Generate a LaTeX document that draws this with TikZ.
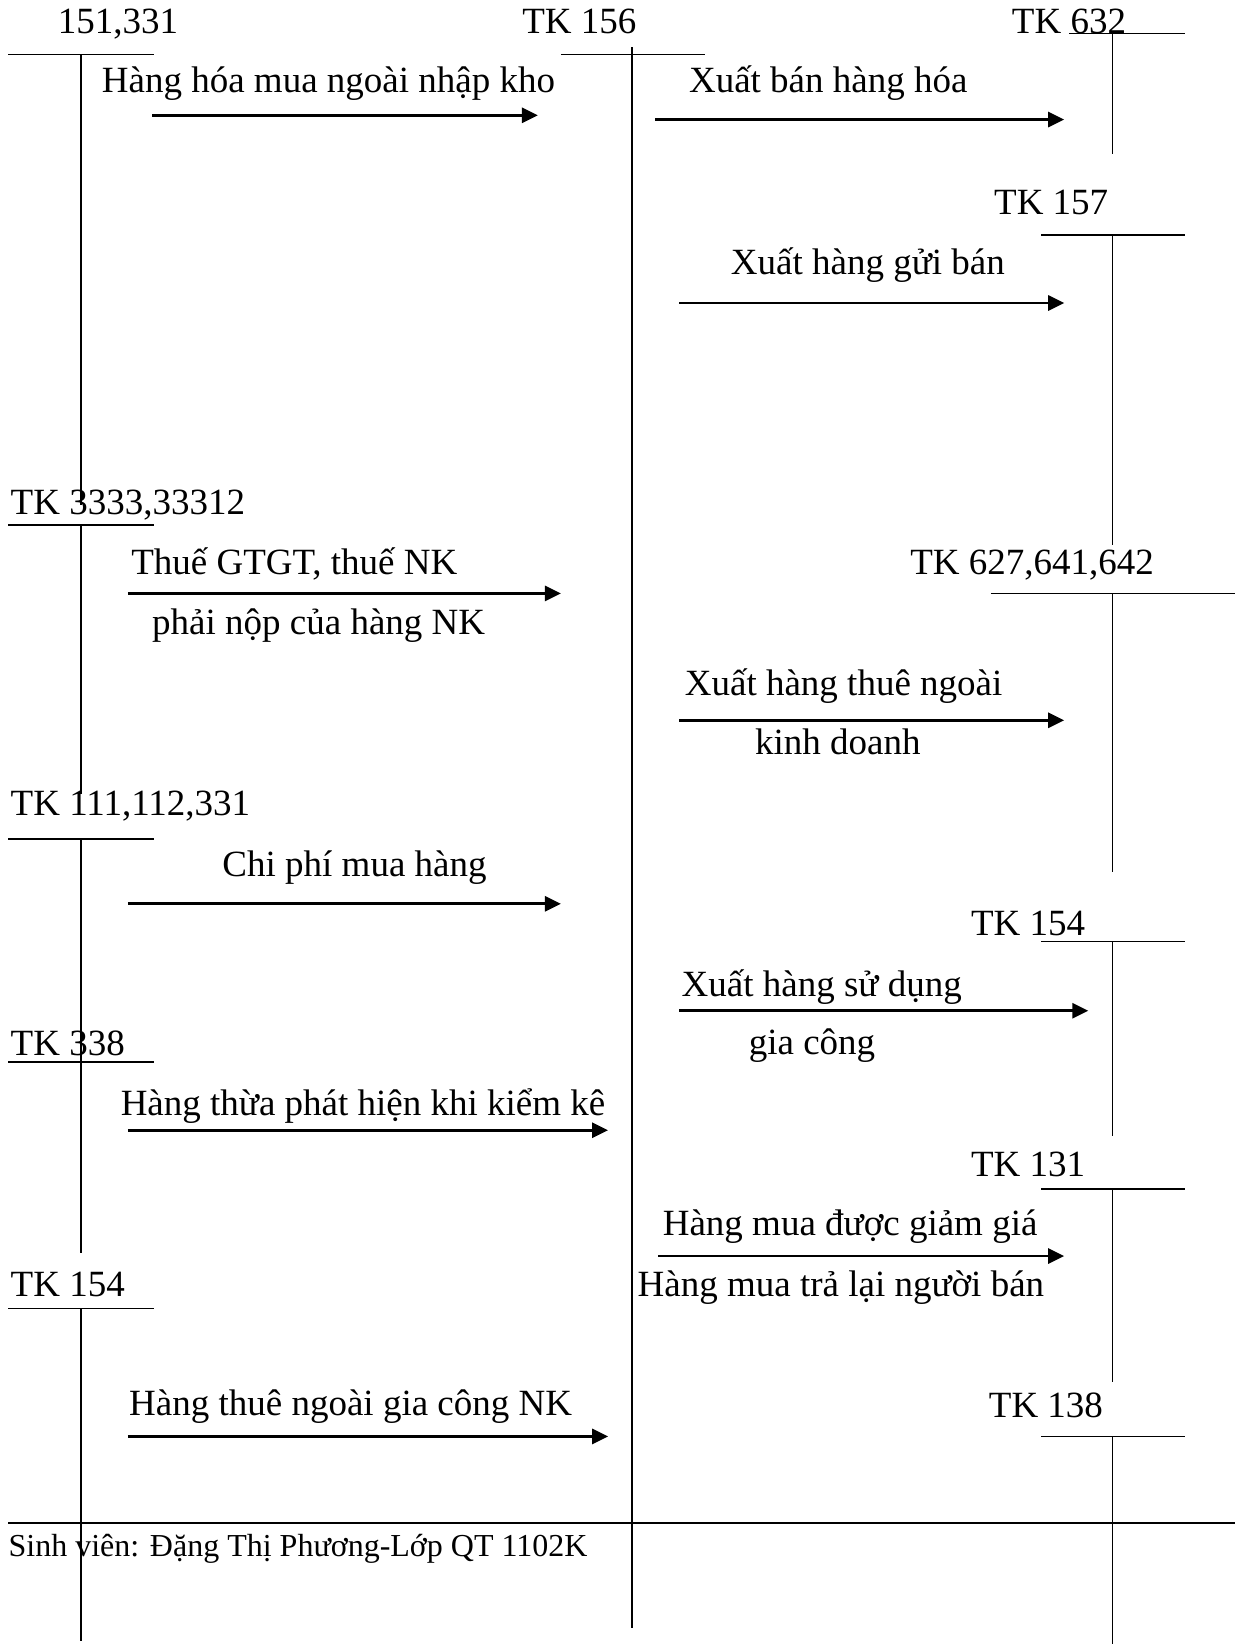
\documentclass[tikz,border=0pt]{standalone}
\usepackage{fontspec}
\setmainfont{Liberation Serif}
\usetikzlibrary{arrows.meta}
\tikzset{
  lbl/.style={anchor=base west, inner sep=0pt, font=\fontsize{37}{44}\selectfont},
  foot/.style={anchor=base west, inner sep=0pt, font=\fontsize{32}{38}\selectfont},
  tline/.style={line width=1.6pt},
  flow/.style={line width=2.8pt, -{Triangle[length=16pt,width=15pt]}},
}
\begin{document}
\begin{tikzpicture}[x=1.0484pt,y=-1.0484pt]
\useasboundingbox (0,0) rectangle (1178,1568);
% labels of accounts
\node[lbl] (a151) at (55,32) {151,331};
\node[lbl] (a156) at (498,32) {TK 156};
\node[lbl] (a632) at (965,32) {TK 632};
\node[lbl] (a157) at (948,205) {TK 157};
\node[lbl] (a3333) at (10,491) {TK 3333,33312};
\node[lbl] (a627) at (868,548) {TK 627,641,642};
\node[lbl] (a111) at (10,778) {TK 111,112,331};
\node[lbl] (a154r) at (926,892) {TK 154};
\node[lbl] (a338) at (10,1007) {TK 338};
\node[lbl] (a131) at (926,1122) {TK 131};
\node[lbl] (a154l) at (10,1237) {TK 154};
\node[lbl] (a138) at (943,1352) {TK 138};
% T-account lines: left column
\draw[tline] (8,52) -- (147,52);
\draw[tline] (77,52) -- (77,482);
\draw[tline] (8,501) -- (147,501);
\draw[tline] (77,501) -- (77,757);
\draw[tline] (8,800) -- (147,800);
\draw[tline] (77,800) -- (77,1195);
\draw[tline] (8,1013) -- (147,1013);
\draw[tline] (8,1248) -- (147,1248);
\draw[tline] (77,1248) -- (77,1565);
% middle column
\draw[tline] (535,52) -- (672,52);
\draw[tline] (603,45) -- (603,1553);
% right column
\draw[tline] (1020,32) -- (1130,32);
\draw[tline] (1061,30) -- (1061,147);
\draw[tline] (993,224) -- (1130,224);
\draw[tline] (1061,224) -- (1061,520);
\draw[tline] (945,566) -- (1178,566);
\draw[tline] (1061,566) -- (1061,832);
\draw[tline] (993,898) -- (1130,898);
\draw[tline] (1061,898) -- (1061,1083);
\draw[tline] (993,1134) -- (1130,1134);
\draw[tline] (1061,1134) -- (1061,1318);
\draw[tline] (993,1370) -- (1130,1370);
\draw[tline] (1061,1370) -- (1061,1568);
% bottom rule
\draw[line width=2pt] (8,1453) -- (1178,1453);
% flow labels
\node[lbl] (t1) at (97,88) {Hàng hóa mua ngoài nhập kho};
\node[lbl] (t2) at (657,88) {Xuất bán hàng hóa};
\node[lbl] (t3) at (697,262) {Xuất hàng gửi bán};
\node[lbl] (t4a) at (125,548) {Thuế GTGT, thuế NK};
\node[lbl] (t4b) at (145,605) {phải nộp của hàng NK};
\node[lbl] (t5a) at (653,663) {Xuất hàng thuê ngoài};
\node[lbl] (t5b) at (720,720) {kinh doanh};
\node[lbl] (t6) at (212,836) {Chi phí mua hàng};
\node[lbl] (t7a) at (650,950) {Xuất hàng sử dụng};
\node[lbl] (t7b) at (714,1006) {gia công};
\node[lbl] (t8) at (115,1064) {Hàng thừa phát hiện khi kiểm kê};
\node[lbl] (t9a) at (632,1178) {Hàng mua được giảm giá};
\node[lbl] (t9b) at (608,1237) {Hàng mua trả lại người bán};
\node[lbl] (t10) at (123,1350) {Hàng thuê ngoài gia công NK};
\node[foot] (ft) at (8,1485) {Sinh viên: Đặng Thị Phương-Lớp QT 1102K};
% arrow end points
\coordinate (s1) at (145,110);  \coordinate (e1) at (513,110);
\coordinate (s2) at (625,114);  \coordinate (e2) at (1015,114);
\coordinate (s3) at (648,289);  \coordinate (e3) at (1015,289);
\coordinate (s4) at (122,566);  \coordinate (e4) at (535,566);
\coordinate (s5) at (648,687);  \coordinate (e5) at (1015,687);
\coordinate (s6) at (122,862);  \coordinate (e6) at (535,862);
\coordinate (s7) at (648,964);  \coordinate (e7) at (1038,964);
\coordinate (s8) at (122,1078); \coordinate (e8) at (580,1078);
\coordinate (s9) at (628,1198); \coordinate (e9) at (1015,1198);
\coordinate (s10) at (122,1370); \coordinate (e10) at (580,1370);
\foreach \i in {1,...,10} {\draw[flow] (s\i) -- (e\i);}
\end{tikzpicture}
\end{document}
